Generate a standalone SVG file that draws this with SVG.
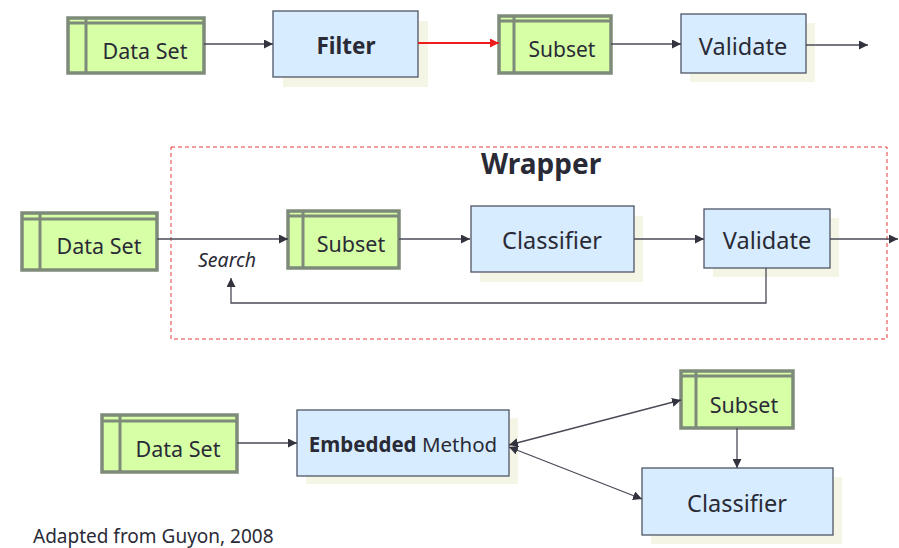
<svg xmlns="http://www.w3.org/2000/svg" width="899" height="548" viewBox="0 0 899 548">
<defs>
<style>
.ds{fill:#d6ffa6;stroke:#7e8a7a;stroke-width:3.5}
.dl{fill:none;stroke:#7e8a7a;stroke-width:3}
.pr{fill:#d7edff;stroke:#4f5566;stroke-width:1.3}
.sh{fill:#f5f5e6}
.t{font-family:"Noto Sans","Open Sans",sans-serif;fill:#2a2a36;text-anchor:middle}
.c{fill:none;stroke:#4a4a58;stroke-width:1.3}
</style>
<marker id="ah" viewBox="0 0 10 10" refX="10" refY="5" markerWidth="9" markerHeight="9" markerUnits="userSpaceOnUse" orient="auto-start-reverse">
<path d="M0,0 L10,5 L0,10 z" fill="#33333f"/>
</marker>
<marker id="ahr" viewBox="0 0 10 10" refX="10" refY="5" markerWidth="9" markerHeight="9" markerUnits="userSpaceOnUse" orient="auto">
<path d="M0,0 L10,5 L0,10 z" fill="#ee1c1c"/>
</marker>
</defs>
<rect width="899" height="548" fill="#ffffff"/>

<g id="wrapper">
<rect x="171" y="147" width="716" height="192" fill="none" stroke="#e8383d" stroke-width="1" stroke-dasharray="4,3"/>
<text x="481" y="174" style="font-family:'Noto Sans','Open Sans',sans-serif;font-weight:bold;font-size:28px;fill:#2a2a36">Wrapper</text>
</g>

<g id="dataset1">
<rect class="ds" x="68" y="18" width="136" height="55"/>
<path class="dl" d="M68,23 H204 M86,18 V73"/>
<text class="t" x="145" y="59" font-size="21.5">Data Set</text>
</g>
<g id="filter">
<rect class="sh" x="283" y="21" width="145" height="66"/>
<rect class="pr" x="273" y="11" width="145" height="66"/>
<text class="t" x="346" y="54" font-size="22.5" font-weight="bold">Filter</text>
</g>
<g id="subset1">
<rect class="ds" x="499" y="16" width="112" height="57"/>
<path class="dl" d="M499,21 H611 M514,16 V73"/>
<text class="t" x="562" y="57" font-size="21">Subset</text>
</g>
<g id="validate1">
<rect class="sh" x="690" y="23" width="125" height="59"/>
<rect class="pr" x="681" y="14" width="125" height="59"/>
<text class="t" x="743" y="55" font-size="23.5">Validate</text>
</g>

<g id="dataset2">
<rect class="ds" x="22" y="213" width="135" height="57"/>
<path class="dl" d="M22,219 H157 M40,213 V270"/>
<text class="t" x="99" y="254" font-size="21.5">Data Set</text>
</g>
<g id="subset2">
<rect class="ds" x="288" y="211" width="111" height="57"/>
<path class="dl" d="M288,216 H399 M303,211 V268"/>
<text class="t" x="351" y="252" font-size="21.5">Subset</text>
</g>
<text x="198" y="267" style="font-family:'Noto Sans','Open Sans',sans-serif;font-style:italic;font-size:19.5px;fill:#2a2a36">Search</text>
<g id="classifier2">
<rect class="sh" x="480" y="216" width="163" height="66"/>
<rect class="pr" x="471" y="206" width="163" height="66"/>
<text class="t" x="552" y="249" font-size="23.5">Classifier</text>
</g>
<g id="validate2">
<rect class="sh" x="713" y="218" width="126" height="59"/>
<rect class="pr" x="704" y="209" width="126" height="59"/>
<text class="t" x="767" y="249" font-size="23.5">Validate</text>
</g>

<g id="dataset3">
<rect class="ds" x="102" y="415" width="135" height="57"/>
<path class="dl" d="M102,421 H237 M120,415 V472"/>
<text class="t" x="178" y="457" font-size="21.5">Data Set</text>
</g>
<g id="embedded">
<rect class="sh" x="306" y="418" width="212" height="66"/>
<rect class="pr" x="297" y="410" width="212" height="66"/>
<text class="t" x="403" y="452" font-size="20.5"><tspan font-weight="bold">Embedded</tspan> Method</text>
</g>
<g id="subset3">
<rect class="ds" x="681" y="371" width="112" height="57"/>
<path class="dl" d="M681,376 H793 M696,371 V428"/>
<text class="t" x="744" y="413" font-size="21.5">Subset</text>
</g>
<g id="classifier3">
<rect class="sh" x="651" y="477" width="191" height="67"/>
<rect class="pr" x="642" y="468" width="191" height="67"/>
<text class="t" x="737" y="512" font-size="23.5">Classifier</text>
</g>

<g id="connectors">
<line class="c" x1="204" y1="44" x2="273" y2="44" marker-end="url(#ah)"/>
<line x1="418" y1="43" x2="499" y2="43" stroke="#ee1c1c" stroke-width="2.2" marker-end="url(#ahr)"/>
<line class="c" x1="611" y1="44" x2="681" y2="44" marker-end="url(#ah)"/>
<line class="c" x1="806" y1="45" x2="868" y2="45" marker-end="url(#ah)"/>
<line class="c" x1="157" y1="239" x2="288" y2="239" marker-end="url(#ah)"/>
<line class="c" x1="399" y1="239" x2="470" y2="239" marker-end="url(#ah)"/>
<line class="c" x1="634" y1="239" x2="704" y2="239" marker-end="url(#ah)"/>
<line class="c" x1="830" y1="239" x2="898" y2="239" marker-end="url(#ah)"/>
<polyline class="c" points="766,268 766,303 231,303 231,278" marker-end="url(#ah)"/>
<line class="c" x1="237" y1="443" x2="297" y2="443" marker-end="url(#ah)"/>
<line class="c" x1="509" y1="445" x2="681" y2="400" marker-start="url(#ah)" marker-end="url(#ah)"/>
<line class="c" x1="509" y1="447" x2="642" y2="499" marker-start="url(#ah)" marker-end="url(#ah)"/>
<line class="c" x1="737" y1="428" x2="737" y2="468" marker-end="url(#ah)"/>
</g>

<text x="33" y="543" style="font-family:'Noto Sans','Open Sans',sans-serif;font-size:19px;fill:#2a2a36">Adapted from Guyon, 2008</text>
</svg>
